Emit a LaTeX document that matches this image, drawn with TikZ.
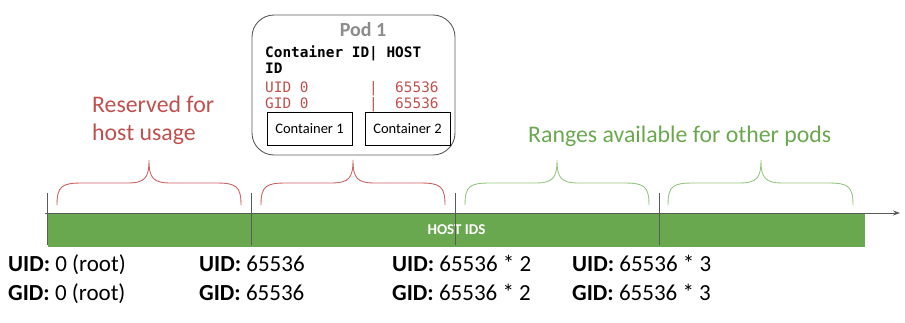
\documentclass[tikz,border=0pt]{standalone}
\usepackage{fontspec}
\setmainfont{Carlito}
\newfontfamily\podmono{DejaVu Sans Mono}
\usetikzlibrary{arrows.meta}

\definecolor{hostred}{RGB}{192,80,77}
\definecolor{bracered}{RGB}{206,100,100}
\definecolor{podgreen}{RGB}{106,168,79}
\definecolor{bracegreen}{RGB}{150,198,128}
\definecolor{framegray}{RGB}{90,90,90}
\definecolor{titlegray}{RGB}{140,140,140}

\tikzset{
  axisline/.style={framegray, line width=0.9pt},
  tickline/.style={framegray, line width=0.9pt},
  idbar/.style={fill=podgreen, minimum width=817pt, minimum height=34pt, inner sep=0pt,
    text=white, font=\fontsize{15}{18}\selectfont\bfseries},
  podframe/.style={framegray, line width=0.9pt, rounded corners=22pt},
  cbox/.style={draw=black, line width=0.9pt, minimum width=85pt, minimum height=33pt,
    inner sep=0pt, font=\fontsize{14.5}{17}\selectfont},
  monotext/.style={anchor=base west, inner sep=0pt, font=\podmono\fontsize{14.4}{16}\selectfont},
  bigtext/.style={anchor=base west, inner sep=0pt, font=\fontsize{23.8}{28}\selectfont},
  idlabel/.style={anchor=base west, inner sep=0pt, font=\fontsize{23}{27}\selectfont},
}

% brace from x=#1 to x=#3, tip at x=#2
\newcommand{\idbrace}[4]{%
  \draw[#4, line width=0.9pt]
    (#1,205) .. controls (#1,186) and (#1+5,183) .. (#1+25,183)
    -- (#2-22,183) .. controls (#2-4,183) and (#2,178) .. (#2,160)
    .. controls (#2,178) and (#2+4,183) .. (#2+22,183)
    -- (#3-25,183) .. controls (#3-5,183) and (#3,186) .. (#3,205);}

\begin{document}
\begin{tikzpicture}[x=1pt,y=-1pt]
  \useasboundingbox (0,0) rectangle (905,322);

  % 1. host id bar, axis and ticks
  \node[idbar] (H) at (456.5,230) {HOST IDS};
  \draw[axisline,-{Stealth[length=7pt,width=5pt]}] (45,213) -- (900,213);
  \foreach \x in {47,251,455,659}
    \draw[tickline] (\x,193) -- (\x,245);

  % 2. braces over the ranges
  \idbrace{57}{149}{241}{bracered}
  \idbrace{261}{353}{445}{bracered}
  \idbrace{465}{557}{649}{bracegreen}
  \idbrace{668}{761}{853}{bracegreen}

  % 3. range captions
  \node[bigtext, text=hostred] (R1) at (92,112) {Reserved for};
  \node[bigtext, text=hostred] (R2) at (92,140) {host usage};
  \node[bigtext, text=podgreen] (G1) at (528,142) {Ranges available for other pods};

  % 4. pod with id mapping
  \draw[podframe] (252,15) rectangle (455,155);
  \node[anchor=base, inner sep=0pt, text=titlegray, font=\fontsize{20}{24}\selectfont\bfseries]
    (P) at (363,36) {Pod 1};
  \node[monotext, font=\podmono\bfseries\fontsize{14.4}{16}\selectfont] (M1) at (265,57) {Container ID| HOST};
  \node[monotext, font=\podmono\bfseries\fontsize{14.4}{16}\selectfont] (M2) at (265,73) {ID};
  \node[monotext, text=hostred] (M3) at (265,92) {UID 0\ \ \ \ \ \ \ |\ \ 65536};
  \node[monotext, text=hostred] (M4) at (265,108) {GID 0\ \ \ \ \ \ \ |\ \ 65536};
  \node[cbox] (C1) at (309.5,128.5) {Container 1};
  \node[cbox] (C2) at (407.5,128.5) {Container 2};

  % 5. uid / gid at each range start
  \foreach \x/\v [count=\i] in {8/0 (root), 199/65536, 392/65536 * 2, 572/65536 * 3} {
    \node[idlabel] (U\i) at (\x,271) {\textbf{UID:} \v};
    \node[idlabel] (D\i) at (\x,300) {\textbf{GID:} \v};
  }
\end{tikzpicture}
\end{document}
